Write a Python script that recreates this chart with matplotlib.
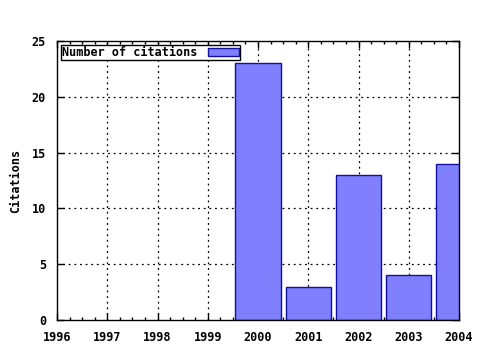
import matplotlib
matplotlib.use("Agg")
import matplotlib.pyplot as plt
from matplotlib.ticker import MultipleLocator

years = [2000, 2001, 2002, 2003, 2004]
citations = [23, 3, 13, 4, 14]
xticks = [1996, 1997, 1998, 1999, 2000, 2001, 2002, 2003, 2004]
yticks = [0, 5, 10, 15, 20, 25]

plt.rcParams['font.family'] = ['DejaVu Sans Mono']
plt.rcParams['font.weight'] = 'bold'

fig = plt.figure(figsize=(4.8, 3.5), dpi=100)
ax = fig.add_axes([57/480, 1-320/350, (459-57)/480, (320-41)/350])

ax.bar(years, citations, width=0.9, color='#8080ff', edgecolor='#1010a0',
       linewidth=1.0, label='Number of citations', zorder=3)

ax.set_xlim(1996, 2004)
ax.set_ylim(0, 25)
ax.set_xticks(xticks)
ax.set_yticks(yticks)
ax.xaxis.set_minor_locator(MultipleLocator(0.25))
ax.tick_params(axis='both', which='major', direction='in', length=5, width=1,
               top=True, right=True, labelsize=8.5)
ax.tick_params(axis='x', which='major', pad=8)
ax.tick_params(axis='y', which='major', pad=8)
ax.tick_params(axis='x', which='minor', direction='in', length=2.5, width=1,
               top=True)
for lbl in ax.get_xticklabels() + ax.get_yticklabels():
    lbl.set_fontweight('bold')

for x in xticks[1:-1]:
    ax.axvline(x, color='black', linestyle=(0, (1.5, 3)), linewidth=0.9, zorder=1)
for y in yticks[1:-1]:
    ax.axhline(y, color='black', linestyle=(0, (1.5, 3)), linewidth=0.9, zorder=1)

for s in ax.spines.values():
    s.set_linewidth(1.0)
    s.set_zorder(5)

ax.set_ylabel('Citations', fontsize=8.5, fontweight='bold', labelpad=7)

leg = ax.legend(loc='upper left', markerfirst=False, fontsize=8.5, frameon=True,
                fancybox=False, framealpha=1, edgecolor='black',
                borderpad=0.1, handlelength=2.6, handleheight=0.6,
                borderaxespad=0.35, handletextpad=0.9)
leg.get_frame().set_linewidth(1.0)
for t in leg.get_texts():
    t.set_fontweight('bold')

fig.savefig('out.png', dpi=100)
